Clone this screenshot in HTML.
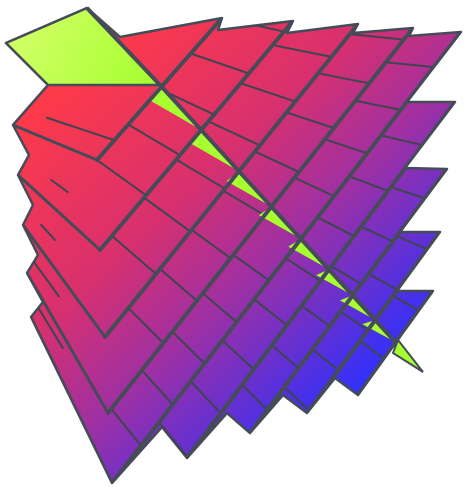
<!DOCTYPE html>
<html><head><meta charset="utf-8"><style>
html,body{margin:0;padding:0;background:#fff;}
svg{display:block;}
</style></head><body>
<svg id="plot" width="469" height="491" viewBox="0 0 469 491" xmlns="http://www.w3.org/2000/svg">
<defs>
<linearGradient id="body" gradientUnits="userSpaceOnUse" x1="80" y1="60" x2="380" y2="380">
<stop offset="0" stop-color="#ff3a48"/>
<stop offset="0.38" stop-color="#d8306e"/>
<stop offset="0.62" stop-color="#a030a2"/>
<stop offset="1" stop-color="#2c30ff"/>
</linearGradient>
<linearGradient id="green" gradientUnits="userSpaceOnUse" x1="10" y1="20" x2="150" y2="85">
<stop offset="0" stop-color="#d4ff6a"/>
<stop offset="1" stop-color="#a6ff30"/>
</linearGradient>
<clipPath id="clip"><polygon id="clipPoly"/></clipPath>
</defs>
<g id="layer"></g>
</svg>
<script>
// plane corner data (level 0 = top)
const leftCorners   = [[13,125],[18,175],[23,225],[27,273],[31,317]];
const frontCorners  = [[97,160],[100,250],[105,337],[108,413],[112,483]];
const topCorners    = [[222,18],[293,21],[358,24],[413,28],[461,32]];
const bottomTips    = [[112,483],[187,458],[250,433],[307,413],[358,395]];
const rightCorners  = [[461,32],[455,102],[447,169],[440,232],[433,291]];
const outline = [[6,43],[87,8],[120,37],[222,18],[218,30],[293,21],[287,33],[358,24],[353,33],[413,28],[409,36],[461,32],
  [407,102],[455,102],[405,168],[447,169],[400,232],[440,232],[397,291],[433,291],[358,395],[335,378],[307,413],[283,395],
  [250,433],[227,413],[187,458],[162,427],[112,483],[31,317],[43,302],[27,273],[38,255],[23,225],[33,205],[18,175],[29,155],[13,125],[48,85]];
const flap = [[6,43],[87,8],[160,85],[48,85]];
const diagStart = [160,85], diagEnd = [423,372];
const cellSize = 50;

const NS='http://www.w3.org/2000/svg';
const layer=document.getElementById('layer');
const pts=a=>a.map(p=>p.join(',')).join(' ');
function mk(tag,attrs){const e=document.createElementNS(NS,tag);for(const k in attrs)e.setAttribute(k,attrs[k]);return e;}

document.getElementById('clipPoly').setAttribute('points',pts(outline));
const body=mk('polygon',{points:pts(outline),fill:'url(#body)',stroke:'#454c58','stroke-width':2.5,'stroke-linejoin':'round'});


layer.appendChild(body);

const g=mk('g',{'clip-path':'url(#clip)'});


layer.appendChild(g);

const thick=[];
for(let k=0;k<5;k++) thick.push([frontCorners[k],topCorners[k]]);
for(let k=1;k<5;k++) thick.push([bottomTips[k],rightCorners[k]]);
const lerp=(a,b,t)=>[a[0]+(b[0]-a[0])*t,a[1]+(b[1]-a[1])*t];
function slope(x,y){return Math.max(0.1,0.15+0.0022*(y-40)+0.0015*(300-x));}
function hit(p,s,L){
  const [a,b]=L;const dx=b[0]-a[0],dy=b[1]-a[1];
  const det=(1*(-dy))-(s*(-dx));
  const rx=a[0]-p[0],ry=a[1]-p[1];
  const u=(rx*(-dy)-ry*(-dx))/det;
  return [p[0]+u,p[1]+u*s];
}
for(let m=0;m<thick.length-1;m++){
  const off=(m*0.37)%1;
  const L=thick[m];
  const len=Math.hypot(L[1][0]-L[0][0],L[1][1]-L[0][1]);
  const n=Math.max(2,Math.round(len/cellSize));
  for(let i=0;i<n+1;i++){
    const t=(i+off)/n; if(t>1)continue;
    const p=lerp(L[0],L[1],t);
    const q=hit(p,slope(p[0],p[1]),thick[m+1]);
    const l=mk('line',{x1:p[0],y1:p[1],x2:q[0],y2:q[1],stroke:'#3e4550','stroke-width':2});
    
    
    g.appendChild(l);
  }
}
for(let k=0;k<5;k++){
  const a=leftCorners[k],b=frontCorners[k];
  const dx=b[0]-a[0],dy=b[1]-a[1];
  const s=[a[0]+dx*0.3+8, a[1]+dy*0.3-18];
  const e=hit(s,dy/dx*0.8,thick[0]);
  const l=mk('line',{x1:s[0],y1:s[1],x2:e[0],y2:e[1],stroke:'#3e4550','stroke-width':2});
  
  
  g.appendChild(l);
}
for(let k=0;k<5;k++){
  const l=mk('line',{x1:leftCorners[k][0],y1:leftCorners[k][1],x2:frontCorners[k][0],y2:frontCorners[k][1],stroke:'#454c58','stroke-width':3});
  
  
  g.appendChild(l);
}
const crosses=[];
for(let m=1;m<thick.length;m++){
  const [a,b]=thick[m];
  const dx=diagEnd[0]-diagStart[0],dy=diagEnd[1]-diagStart[1];
  const ex=b[0]-a[0],ey=b[1]-a[1];
  const det=dx*(-ey)-dy*(-ex);
  const rx=a[0]-diagStart[0],ry=a[1]-diagStart[1];
  const u=(rx*(-ey)-ry*(-ex))/det;
  if(u>0&&u<1)crosses.push([diagStart[0]+u*dx,diagStart[1]+u*dy]);
}
crosses.unshift(diagStart);
for(let i=0;i<crosses.length-1;i++){
  const p=crosses[i],q=crosses[i+1];
  const tri=[p,q,[p[0]+(q[0]-p[0])*0.05-14, p[1]+(q[1]-p[1])*0.45-6]];
  const e=mk('polygon',{points:pts(tri),fill:'#a8ff30'});
  
  
  g.appendChild(e);
}
thick.forEach(L=>{
  const l=mk('line',{x1:L[0][0],y1:L[0][1],x2:L[1][0],y2:L[1][1],stroke:'#454c58','stroke-width':4,'stroke-linecap':'round'});
  
  
  g.appendChild(l);
});
const d=mk('line',{x1:diagStart[0],y1:diagStart[1],x2:diagEnd[0]-25,y2:diagEnd[1]-27,stroke:'#454c58','stroke-width':4});


g.appendChild(d);
const tip=mk('polygon',{points:'398,340 423,372 393,353',fill:'#a8ff30',stroke:'#454c58','stroke-width':2});


layer.appendChild(tip);
const f=mk('polygon',{points:pts(flap),fill:'url(#green)',stroke:'#454c58','stroke-width':2.5,'stroke-linejoin':'round'});


layer.appendChild(f);
const fe=mk('line',{x1:87,y1:8,x2:160,y2:85,stroke:'#454c58','stroke-width':4});


layer.appendChild(fe);
</script>
</body></html>
